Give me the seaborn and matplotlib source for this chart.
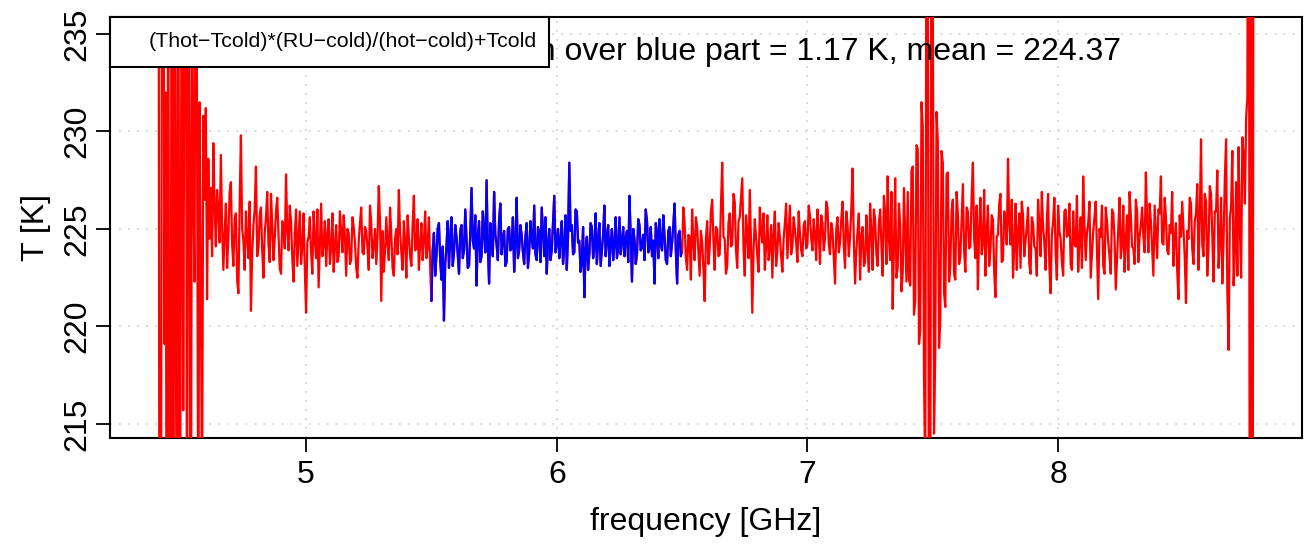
import numpy as np
import pandas as pd
import matplotlib
matplotlib.use("Agg")
import matplotlib.pyplot as plt
from matplotlib.patches import Rectangle
import seaborn as sns

# channel grid of the spectrum (GHz)
freq_start = 4.41
freq_step = 0.005

# calibrated temperature per channel [K], split by band
temp_edge_low = [262, 205, 195, 241, 250, 219.1, 232, 196, 245, 200, 211, 258,
                 190, 248, 222.6, 203, 255, 198, 221.0, 249, 215.7, 238, 252,
                 205, 244, 229.0, 199, 240, 227.2, 222.3, 245, 231.0, 207,
                 231.5, 222.8, 210, 230.8, 226.5, 231.2, 221.4, 228.6, 224.5,
                 227.1, 223.6]
temp_red_1 = [229.4, 226.2, 224.1, 227.0, 226.0, 224.3, 228.8, 225.1, 222.9, 224.8,
              226.3, 223.0, 224.6, 226.9, 227.4, 224.2, 223.1, 225.5, 225.8, 222.4,
              221.7, 226.3, 229.8, 225.0, 224.4, 222.9, 225.9, 224.6, 223.5, 226.4,
              220.8, 223.7, 225.2, 226.0, 228.2, 223.6, 224.0, 225.7, 226.1, 223.9,
              222.5, 224.8, 225.6, 226.9, 224.2, 223.3, 226.8, 225.2, 223.4, 224.5,
              225.9, 226.6, 224.7, 223.0, 222.7, 225.4, 225.1, 224.0, 227.8, 224.9,
              223.9, 226.2, 225.4, 223.5, 222.3, 224.7, 226.0, 223.1, 224.5, 225.9,
              223.2, 224.1, 225.8, 222.9, 220.7, 224.3, 224.6, 225.6, 223.8, 222.7,
              225.9, 224.4, 223.5, 226.0, 222.0, 224.2, 226.3, 223.6, 224.2, 225.4,
              223.1, 224.7, 225.5, 223.2, 224.0, 225.8, 222.8, 224.1, 225.2, 223.3,
              223.6, 225.9, 224.9, 223.8, 225.7, 224.6, 222.6, 225.0, 224.8, 223.2,
              223.4, 225.6, 225.1, 224.3, 223.0, 222.5, 224.4, 225.3, 226.1, 223.8,
              223.7, 225.1, 224.9, 224.0, 222.9, 226.2, 225.3, 223.5, 224.1, 225.0,
              223.2, 224.6, 227.2, 225.4, 221.3, 224.9, 222.8, 223.9, 225.6, 224.2,
              223.4, 226.1, 224.7, 223.0, 222.6, 224.5, 225.0, 223.7, 227.0, 224.8,
              223.8, 222.9, 225.4, 224.4, 222.5, 225.7, 224.6, 223.6, 223.1, 225.2,
              226.7, 223.9, 224.0, 225.5, 222.9, 224.2, 225.3, 223.4, 224.4, 225.9,
              223.5, 224.1, 225.6, 223.0]
temp_blue = [221.3, 223.9, 224.8, 222.6, 223.6, 225.0, 225.3, 223.4, 222.4, 224.1,
             220.3, 223.2, 224.1, 225.4, 223.0, 224.6, 225.6, 223.1, 223.8, 225.2,
             224.6, 223.7, 222.7, 224.9, 225.2, 223.5, 223.9, 226.0, 224.5, 223.0,
             223.1, 224.8, 227.1, 224.4, 224.0, 225.7, 222.1, 224.6, 225.4, 223.3,
             223.6, 225.9, 224.8, 223.8, 227.5, 224.1, 222.2, 225.3, 224.3, 223.6,
             226.9, 224.7, 224.2, 223.4, 225.5, 226.3, 223.7, 224.5, 224.9, 223.1,
             223.3, 225.0, 225.1, 223.9, 224.0, 225.6, 222.8, 224.3, 226.6, 223.5,
             223.9, 225.2, 224.7, 223.8, 223.2, 224.6, 225.3, 223.0, 223.8, 225.4,
             224.5, 224.0, 226.2, 223.7, 223.4, 225.1, 224.8, 223.3, 226.1, 224.9,
             223.6, 225.6, 222.7, 224.2, 225.0, 223.4, 223.9, 225.3, 226.7, 223.8,
             224.3, 225.0, 223.5, 224.4, 225.4, 223.2, 224.1, 225.7, 222.9, 224.6,
             228.4, 224.9, 225.2, 223.7, 223.8, 226.0, 225.9, 224.3, 224.4, 222.8,
             223.3, 225.1, 221.5, 223.9, 224.6, 222.9, 223.7, 225.3, 225.1, 223.5,
             224.0, 225.8, 223.2, 224.4, 225.3, 223.1, 223.9, 224.7, 226.2, 223.6,
             224.5, 225.2, 223.1, 224.3, 225.0, 223.4, 224.2, 225.6, 223.5, 224.0,
             225.6, 223.7, 224.3, 225.1, 223.6, 224.5, 224.9, 223.3, 226.7, 224.6,
             222.3, 225.0, 224.5, 223.2, 223.7, 225.5, 225.2, 223.9, 224.1, 224.7,
             223.4, 226.0, 225.4, 223.8, 224.0, 225.1, 223.6, 224.4, 222.2, 225.3,
             224.8, 223.5, 225.5, 224.2, 223.9, 225.7, 224.6, 223.4, 223.2, 224.9,
             225.1, 223.6, 224.3, 225.2, 226.3, 223.9, 222.2, 224.7, 224.9, 223.6]
temp_red_2 = [223.8, 226.1, 225.3, 223.5, 222.9, 224.7, 224.6, 222.4, 226.0, 224.3,
              223.4, 225.6, 225.1, 223.8, 222.6, 224.9, 224.3, 223.0, 221.3, 224.5,
              225.4, 223.2, 224.0, 225.9, 226.5, 224.4, 222.9, 225.1, 225.0, 223.6,
              223.7, 226.2, 228.4, 224.6, 224.5, 222.7, 223.1, 225.3, 225.8, 224.1,
              224.2, 226.8, 226.4, 223.9, 223.0, 225.4, 225.6, 226.6, 227.6, 224.0,
              222.6, 225.7, 224.8, 223.5, 227.0, 224.2, 220.7, 223.9, 225.5, 224.6,
              223.6, 222.8, 226.1, 224.9, 224.3, 225.8, 222.9, 224.1, 225.7, 223.4,
              224.0, 225.2, 222.5, 224.7, 225.9, 223.1, 223.8, 225.3, 224.6, 223.6,
              222.8, 224.5, 225.3, 226.3, 223.5, 224.8, 226.2, 223.7, 224.1, 225.6,
              225.0, 224.3, 223.3, 225.9, 224.8, 223.9, 223.6, 225.2, 225.4, 224.0,
              224.2, 226.2, 225.7, 224.5, 223.9, 225.5, 224.7, 223.4, 226.0, 224.8,
              223.2, 225.7, 225.3, 223.9, 224.5, 226.4, 226.1, 224.2, 223.7, 225.3,
              224.9, 223.5, 222.2, 225.0, 225.6, 223.8, 224.3, 225.5, 226.4, 224.1,
              223.0, 225.9, 225.2, 223.6, 224.6, 226.0, 228.1, 224.4, 222.2, 223.9,
              224.9, 225.8, 222.4, 224.6, 225.1, 223.1, 223.3, 225.7, 224.0, 222.8,
              226.3, 224.9, 222.9, 226.0, 225.5, 223.7, 223.1, 225.3, 226.0, 224.2,
              222.6, 226.7, 225.8, 223.2, 227.7, 224.5, 223.4, 226.9, 220.9, 224.1,
              227.6, 222.5, 223.0, 226.3, 225.2, 221.8, 222.7, 227.1, 224.6, 222.3]
temp_edge_mid = [226.9, 222.4, 222.1, 228.0, 228.2, 220.6, 221.3, 229.3, 229.1,
                 219.1, 219.8, 231.5, 230.2, 217.4, 212.0, 245, 240.0, 205, 208.0,
                 250, 238.0, 214.5, 218.7, 231.0, 229.5, 218.9, 220.4, 229.0,
                 228.4, 221.7, 221.0, 227.8, 227.9, 222.3]
temp_red_3 = [223.1, 225.9, 226.5, 222.7, 222.4, 226.9, 225.8, 223.2, 223.6, 225.4,
              227.3, 223.9, 222.8, 226.1, 225.9, 224.0, 224.1, 226.7, 228.4, 224.5,
              223.5, 226.2, 221.9, 225.0, 226.6, 223.7, 224.3, 227.0, 222.6, 224.8,
              226.2, 223.1, 223.9, 225.7, 225.5, 222.8, 221.5, 224.6, 224.7, 226.3,
              226.8, 223.3, 223.4, 225.9, 225.6, 224.2, 228.6, 225.3, 224.2, 226.5,
              222.5, 224.0, 226.3, 222.9, 224.8, 225.8, 223.0, 226.4, 225.7, 223.6,
              224.4, 225.1, 226.1, 223.2, 222.7, 225.6, 225.3, 224.1, 224.0, 222.6,
              226.5, 225.2, 223.6, 226.9, 225.1, 224.3, 222.9, 225.5, 226.8, 223.1,
              221.7, 224.7, 225.4, 226.6, 223.8, 222.4, 226.2, 224.9, 224.5, 223.3,
              222.6, 225.9, 226.0, 224.6, 224.7, 226.3, 223.2, 222.9, 225.9, 224.2,
              224.1, 226.7, 222.8, 224.4, 225.6, 223.0, 227.7, 225.2, 223.4, 224.8,
              225.3, 226.4, 222.5, 223.7, 224.9, 225.6, 226.4, 223.9, 221.4, 225.0,
              224.6, 226.2, 223.1, 222.7, 226.1, 225.4, 224.3, 223.6, 222.7, 226.0,
              225.8, 224.5, 221.9, 223.4, 225.0, 226.6, 223.5, 224.2, 226.2, 222.8,
              224.4, 225.7, 222.9, 226.9, 225.7, 224.1, 224.0, 223.2, 226.5, 225.9,
              223.3, 224.6, 225.2, 226.1, 224.6, 223.8, 227.9, 225.5, 223.8, 226.3,
              225.4, 224.0, 222.6, 226.2, 224.9, 223.5, 226.0, 225.8, 227.7, 224.3,
              224.2, 226.6, 225.6, 223.9, 223.7, 225.2, 224.8, 226.9, 223.1, 224.5,
              225.3, 222.9, 221.4, 225.7, 224.6, 226.4, 225.0, 223.6, 221.2, 224.9,
              224.5, 226.6, 226.3, 224.0, 223.2, 225.4, 225.8, 227.3, 222.9, 225.5,
              229.6, 224.2, 223.6, 226.8, 226.4, 222.6, 224.1, 227.2, 226.8, 224.7,
              222.3, 225.9, 225.9, 228.0, 223.0, 224.3, 226.6, 222.2, 224.4, 227.6,
              229.6, 221.8, 218.8, 225.5, 226.2, 229.0, 222.1, 223.8, 227.4, 222.6,
              229.2, 225.0, 222.5, 229.7, 228.8, 226.3, 230.7, 231.8]
temp_edge_high = [262, 196, 255, 190, 258]

title_text = "standard deviation over blue part = 1.17 K, mean = 224.37"
legend_text = "(Thot\u2212Tcold)*(RU\u2212cold)/(hot\u2212cold)+Tcold"
x_ticks = [5, 6, 7, 8]
y_ticks = [215, 220, 225, 230, 235]


def build_frame():
    temps = (temp_edge_low + temp_red_1 + temp_blue + temp_red_2
             + temp_edge_mid + temp_red_3 + temp_edge_high)
    freq = np.round(freq_start + freq_step * np.arange(len(temps)), 4)
    df = pd.DataFrame({"freq": freq, "T": temps})
    i0 = len(temp_edge_low) + len(temp_red_1)
    blue = df.iloc[i0:i0 + len(temp_blue)]
    return df, blue


def main():
    sns.set_style("white")
    plt.rcParams["font.family"] = ["Liberation Sans", "DejaVu Sans"]
    plt.rcParams["text.color"] = "black"
    plt.rcParams["axes.labelcolor"] = "black"

    df, blue = build_frame()

    fig = plt.figure(figsize=(13.07, 5.46), dpi=100)
    ax = fig.add_axes([0.0842, 0.1978, 0.912, 0.7711])

    sns.lineplot(data=df, x="freq", y="T", ax=ax, color="#ff0000",
                 linewidth=1.6, sort=False, estimator=None, zorder=3)
    sns.lineplot(data=blue, x="freq", y="T", ax=ax, color="#0000ff",
                 linewidth=1.6, sort=False, estimator=None, zorder=4)

    ax.set_xlim(4.218, 8.973)
    ax.set_ylim(214.28, 235.87)
    ax.set_xticks(x_ticks)
    ax.set_yticks(y_ticks)
    ax.grid(True, color="#d3d3d3", linestyle=(0, (1, 4)), linewidth=1.3)

    for s in ax.spines.values():
        s.set_visible(True)
        s.set_color("black")
        s.set_linewidth(1.5)

    ax.tick_params(axis="both", direction="out", length=10, width=1.3,
                   labelsize=23, colors="black", bottom=True, left=True)
    ax.tick_params(axis="x", pad=6)
    ax.tick_params(axis="y", pad=3)
    for lab in ax.get_yticklabels():
        lab.set_rotation(90)
        lab.set_va("center")

    ax.set_xlabel("frequency [GHz]", fontsize=23, labelpad=12)
    ax.set_ylabel("T [K]", fontsize=23, labelpad=8)

    ax.text(8.25, 234.05, title_text, fontsize=23, ha="right",
            va="center", zorder=5)

    # legend box in the top-left corner
    ax.add_patch(Rectangle((0, 0.8812), 0.3683, 0.1188, transform=ax.transAxes,
                           facecolor="white", edgecolor="black",
                           linewidth=1.5, zorder=6, clip_on=False))
    ax.text(0.032, 0.9406, legend_text, transform=ax.transAxes,
            fontsize=15.4, ha="left", va="center", zorder=7)

    fig.savefig("out.png", dpi=100)
    plt.close(fig)


if __name__ == "__main__":
    main()
